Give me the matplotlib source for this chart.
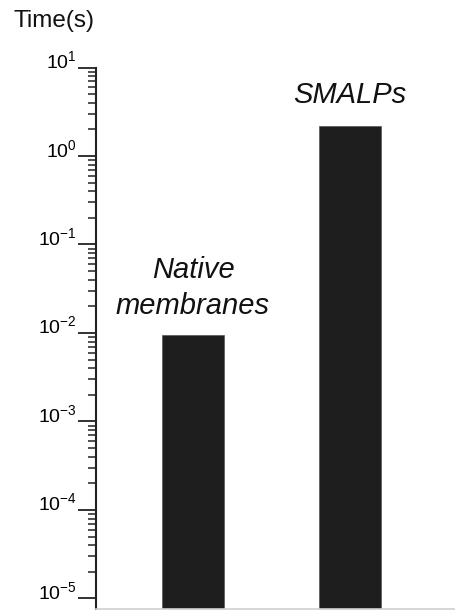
import numpy as np
import matplotlib.pyplot as plt
import matplotlib.transforms as mtransforms
from matplotlib.ticker import FixedLocator, FuncFormatter, NullFormatter

plt.rcParams['font.family'] = ['Liberation Sans', 'DejaVu Sans']
plt.rcParams['mathtext.fontset'] = 'custom'
plt.rcParams['mathtext.rm'] = 'Liberation Sans'
plt.rcParams['mathtext.it'] = 'Liberation Sans:italic'

# data
categories = ['Native\nmembranes', 'SMALPs']
times = [0.0095, 2.2]
label_offsets = [34, 22]   # points above the bar top
decades = [-5, -4, -3, -2, -1, 0, 1]

fig = plt.figure(figsize=(4.55, 6.1), dpi=100)
ax = fig.add_axes([96 / 455, 1 - 609 / 610, 1 - 96 / 455, (609 - 67.5) / 610])

x = np.arange(len(categories))
ax.bar(x, times, width=0.395, bottom=1e-7, color='#1e1e1e', edgecolor='#555555', linewidth=0.5)

ax.set_yscale('log')
ax.set_ylim(7.6e-6, 10)
ax.set_xlim(-0.618, 1.669)

major = [10.0 ** d for d in decades]
minor = [s * 10.0 ** d for d in decades[:-1] for s in range(2, 10)]
ax.yaxis.set_major_locator(FixedLocator(major))
ax.yaxis.set_minor_locator(FixedLocator(minor))
ax.yaxis.set_major_formatter(FuncFormatter(
    lambda v, p: r'$\mathregular{10^{%d}}$' % int(round(np.log10(v)))))
ax.yaxis.set_minor_formatter(NullFormatter())
ax.tick_params(axis='y', which='major', length=13, width=1.3, labelsize=14, pad=1, color='#222222')
ax.tick_params(axis='y', which='minor', length=6, width=1.1, color='#222222')
ax.set_xticks([])

# move tick labels a bit up like the original
offset = mtransforms.ScaledTranslation(0, 6 / 72, fig.dpi_scale_trans)
for lab in ax.get_yticklabels():
    lab.set_transform(lab.get_transform() + offset)

for side in ['top', 'right']:
    ax.spines[side].set_visible(False)
ax.spines['left'].set_linewidth(1.5)
ax.spines['left'].set_color('#222222')
ax.spines['bottom'].set_color('#d0d0d0')
ax.spines['bottom'].set_linewidth(1.2)

for xi, t, name, off in zip(x, times, categories, label_offsets):
    ax.annotate(name, xy=(xi, t), xytext=(0, off), textcoords='offset points',
                ha='center', va='center', fontsize=21, style='italic',
                linespacing=1.35, color='#111111')

fig.text(13 / 455, 1 - 21 / 610, 'Time(s)', fontsize=17.5, ha='left', va='center', color='#111111')

fig.savefig('out.png', dpi=100)
